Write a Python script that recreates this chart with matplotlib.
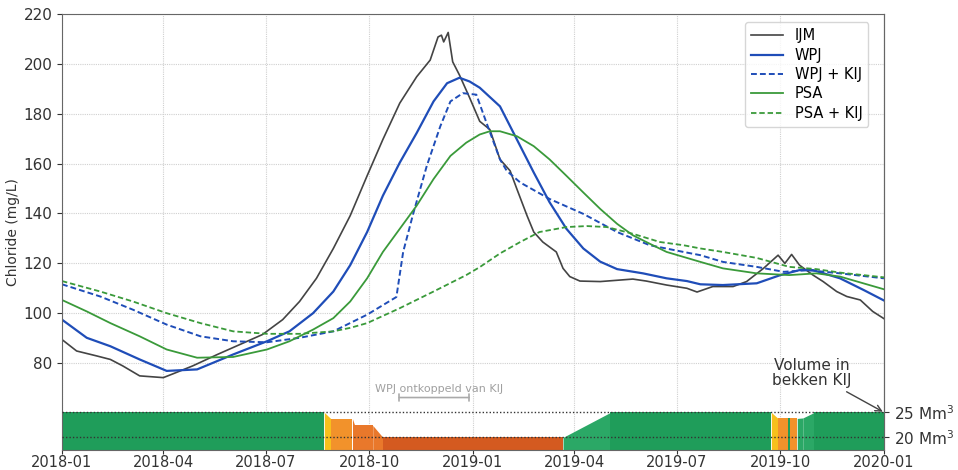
import matplotlib.pyplot as plt
import matplotlib.dates as mdates
import pandas as pd

# chloride series
ijm_dates = ['2018-01-01', '2018-01-14', '2018-02-01', '2018-02-13', '2018-02-24', '2018-03-11',
             '2018-04-01', '2018-04-10', '2018-04-27', '2018-05-19', '2018-06-08', '2018-06-28',
             '2018-07-16', '2018-07-31', '2018-08-15', '2018-08-30', '2018-09-14', '2018-09-29',
             '2018-10-13', '2018-10-28', '2018-11-12', '2018-11-24', '2018-12-01', '2018-12-04',
             '2018-12-06', '2018-12-10', '2018-12-14', '2018-12-20', '2018-12-29', '2019-01-07',
             '2019-01-16', '2019-01-25', '2019-02-03', '2019-02-09', '2019-02-18', '2019-02-24',
             '2019-03-04', '2019-03-16', '2019-03-22', '2019-03-28', '2019-04-06', '2019-04-24',
             '2019-05-23', '2019-06-04', '2019-06-22', '2019-07-10', '2019-07-19', '2019-08-02',
             '2019-08-20', '2019-09-01', '2019-09-16', '2019-09-29', '2019-10-05', '2019-10-11',
             '2019-10-18', '2019-10-30', '2019-11-08', '2019-11-20', '2019-11-29', '2019-12-11',
             '2019-12-22', '2020-01-01']
ijm = [89.3, 84.7, 82.7, 81.3, 78.7, 74.7,
       74.0, 75.6, 78.7, 83.3, 87.3, 91.3,
       97.3, 104.6, 113.9, 125.9, 139.1, 155.1,
       169.7, 184.3, 194.9, 201.6, 210.9, 211.6,
       208.9, 212.7, 200.9, 195.6, 186.5, 177.0,
       173.7, 161.7, 157.1, 149.8, 139.1, 132.5,
       128.5, 124.5, 117.9, 114.6, 112.8, 112.6,
       113.6, 112.8, 111.2, 109.9, 108.4, 110.6,
       110.6, 112.6, 117.9, 123.2, 119.9, 123.5,
       119.2, 115.2, 112.6, 108.6, 106.6, 105.2,
       100.6, 97.7]

wpj_dates = ['2018-01-01', '2018-01-23', '2018-02-13', '2018-03-11', '2018-04-04', '2018-05-01',
             '2018-06-02', '2018-07-02', '2018-07-22', '2018-08-12', '2018-08-30', '2018-09-14',
             '2018-09-29', '2018-10-13', '2018-10-28', '2018-11-12', '2018-11-27', '2018-12-09',
             '2018-12-20', '2018-12-29', '2019-01-07', '2019-01-25', '2019-02-09', '2019-02-24',
             '2019-03-10', '2019-03-25', '2019-04-09', '2019-04-24', '2019-05-09', '2019-06-01',
             '2019-06-22', '2019-07-10', '2019-07-22', '2019-08-11', '2019-09-10', '2019-10-01',
             '2019-10-18', '2019-10-30', '2019-11-23', '2019-12-14', '2020-01-01']
wpj = [97.3, 90.0, 86.6, 81.3, 76.7, 77.3,
       83.3, 88.6, 92.6, 99.9, 108.6, 119.2,
       132.5, 147.1, 160.4, 172.3, 185.0, 192.3,
       194.5, 193.0, 190.5, 183.0, 169.7, 156.4,
       144.5, 133.8, 125.9, 120.6, 117.6, 115.9,
       113.9, 112.8, 111.5, 111.2, 111.9, 115.2,
       117.2, 117.2, 113.9, 109.2, 105.0]

wpj_kij_dates = ['2018-01-01', '2018-02-04', '2018-03-05', '2018-04-04', '2018-05-04', '2018-06-02',
                 '2018-07-02', '2018-07-31', '2018-08-30', '2018-09-29', '2018-10-25', '2018-10-31',
                 '2018-11-09', '2018-11-21', '2018-12-03', '2018-12-12', '2018-12-23', '2019-01-04',
                 '2019-01-13', '2019-01-25', '2019-01-31', '2019-02-12', '2019-03-10', '2019-04-09',
                 '2019-05-09', '2019-06-07', '2019-07-07', '2019-07-22', '2019-08-11', '2019-09-10',
                 '2019-10-04', '2019-10-25', '2019-11-23', '2020-01-01']
wpj_kij = [111.5, 106.6, 101.3, 95.3, 90.6, 88.6,
           88.2, 90.0, 92.6, 99.3, 106.4, 124.5,
           140.0, 159.1, 175.0, 185.0, 188.3, 187.7,
           176.4, 161.7, 157.1, 152.4, 145.8, 139.8,
           132.5, 127.2, 124.5, 123.2, 120.5, 118.5,
           116.5, 117.2, 115.9, 113.9]

psa_dates = ['2018-01-01', '2018-01-23', '2018-02-13', '2018-03-11', '2018-04-04', '2018-05-01',
             '2018-06-02', '2018-07-02', '2018-07-22', '2018-08-12', '2018-08-30', '2018-09-14',
             '2018-09-29', '2018-10-13', '2018-10-28', '2018-11-12', '2018-11-27', '2018-12-12',
             '2018-12-26', '2019-01-07', '2019-01-16', '2019-01-25', '2019-02-09', '2019-02-24',
             '2019-03-10', '2019-03-25', '2019-04-09', '2019-04-24', '2019-05-09', '2019-05-23',
             '2019-06-07', '2019-06-22', '2019-07-07', '2019-07-22', '2019-08-11', '2019-09-10',
             '2019-10-09', '2019-11-02', '2019-11-23', '2020-01-01']
psa = [105.2, 100.6, 95.9, 90.6, 85.3, 82.0,
       82.3, 85.3, 88.6, 93.3, 97.9, 104.6,
       113.9, 124.5, 133.8, 143.1, 153.8, 163.1,
       168.4, 171.7, 173.0, 173.0, 171.0, 167.0,
       161.7, 155.1, 148.4, 141.8, 135.8, 131.2,
       127.8, 124.5, 122.5, 120.5, 117.9, 115.9,
       115.2, 115.9, 114.6, 109.5]

psa_kij_dates = ['2018-01-01', '2018-02-04', '2018-03-05', '2018-04-04', '2018-05-04', '2018-06-02',
                 '2018-07-02', '2018-07-31', '2018-08-30', '2018-09-14', '2018-09-29', '2018-10-28',
                 '2018-11-27', '2018-12-26', '2019-01-07', '2019-01-25', '2019-02-12', '2019-03-01',
                 '2019-03-25', '2019-04-12', '2019-04-30', '2019-05-23', '2019-06-16', '2019-07-07',
                 '2019-07-22', '2019-08-11', '2019-09-10', '2019-10-09', '2019-11-02', '2019-11-23',
                 '2020-01-01']
psa_kij = [112.8, 108.6, 104.6, 99.9, 95.9, 92.6,
           91.6, 91.6, 92.6, 94.0, 95.9, 101.9,
           108.6, 115.2, 118.4, 123.9, 128.5, 132.5,
           134.5, 134.9, 134.5, 131.8, 128.5, 127.2,
           125.9, 124.5, 122.1, 118.5, 117.6, 116.2,
           114.3]

# volume in bekken KIJ (Mm3) and the colour of each stretch
vol_dates = ['2018-01-01', '2018-08-22', '2018-08-28', '2018-09-16', '2018-09-18', '2018-10-04',
             '2018-10-13', '2019-03-22', '2019-05-03', '2019-09-23', '2019-09-29', '2019-10-08',
             '2019-10-10', '2019-10-16', '2019-10-21', '2019-10-31', '2020-01-01']
vol = [25, 25, 23.7, 23.7, 22.4, 22.4,
       20, 20, 25, 25, 23.8, 23.8,
       23.8, 23.8, 23.9, 25, 25]
vol_colors = ['#1f9d5a', '#f7c01c', '#f2922b', '#e9782b', '#e9782b', '#e9782b',
              '#d45a20', '#2ba866', '#1f9d5a', '#f7c01c', '#f2922b', '#1f9d5a',
              '#f2922b', '#2ba866', '#2ba866', '#1f9d5a']

ylow = 45


def vol_to_y(v):
    return 2 * v + 10


def y_to_vol(y):
    return (y - 10) / 2


fig = plt.figure(figsize=(9.58, 4.70), dpi=100)
ax = fig.add_axes([0.0647, 0.043, 0.858, 0.9266])

ax.plot(pd.to_datetime(ijm_dates), ijm, color='#444444', lw=1.2, label='IJM')
ax.plot(pd.to_datetime(wpj_dates), wpj, color='#1f4db8', lw=1.6, label='WPJ')
ax.plot(pd.to_datetime(wpj_kij_dates), wpj_kij, color='#1f4db8', lw=1.4, ls='--',
        dashes=(3, 1.6), label='WPJ + KIJ')
ax.plot(pd.to_datetime(psa_dates), psa, color='#3a9a3a', lw=1.3, label='PSA')
ax.plot(pd.to_datetime(psa_kij_dates), psa_kij, color='#3a9a3a', lw=1.3, ls='--',
        dashes=(3, 1.6), label='PSA + KIJ')

vd = pd.to_datetime(vol_dates)
for i in range(len(vol_colors)):
    ax.fill_between(vd[i:i + 2], ylow, [vol_to_y(v) for v in vol[i:i + 2]],
                    color=vol_colors[i], lw=0, zorder=2)

ax.axhline(vol_to_y(25), color='#333333', ls=(0, (1, 1.5)), lw=1, zorder=3)
ax.axhline(vol_to_y(20), color='#333333', ls=(0, (1, 1.5)), lw=1, zorder=3)

ax.set_xlim(pd.Timestamp('2018-01-01'), pd.Timestamp('2020-01-01'))
ax.set_ylim(ylow, 220)
ax.set_yticks(range(80, 221, 20))
ax.xaxis.set_major_locator(mdates.MonthLocator(bymonth=[1, 4, 7, 10]))
ax.xaxis.set_major_formatter(mdates.DateFormatter('%Y-%m'))
ax.tick_params(labelsize=11, colors='#333333')
ax.tick_params(axis='x', length=3, pad=0.5, labelsize=10.5)
ax.set_ylabel('Chloride (mg/L)', fontsize=10, color='#333333', labelpad=2)
ax.set_axisbelow(True)
ax.grid(True, color='#d0d0d0', lw=0.8, ls=(0, (1, 1)))
for s in ax.spines.values():
    s.set_color('#666666')

sec = ax.secondary_yaxis('right', functions=(y_to_vol, vol_to_y))
sec.set_yticks([25, 20])
sec.set_yticklabels(['25 Mm$^3$', '20 Mm$^3$'])
sec.tick_params(labelsize=11, colors='#333333')
sec.spines['right'].set_color('#666666')

# WPJ ontkoppeld van KIJ
ax.annotate('', xy=(pd.Timestamp('2018-12-31'), 66), xytext=(pd.Timestamp('2018-10-25'), 66),
            arrowprops=dict(arrowstyle='|-|, widthA=0.25, widthB=0.25', color='#aaaaaa', lw=1.2))
ax.text(pd.Timestamp('2018-12-02'), 69.3, 'WPJ ontkoppeld van KIJ', fontsize=8,
        color='#a0a0a0', ha='center', va='center')

ax.annotate('Volume in\nbekken KIJ', xy=(pd.Timestamp('2019-12-31'), 60.3),
            xytext=(pd.Timestamp('2019-10-29'), 76), fontsize=11, color='#333333',
            ha='center', va='center', linespacing=1.0,
            arrowprops=dict(arrowstyle='->', color='#444444', lw=1,
                            shrinkA=2, shrinkB=0))

ax.legend(loc='upper right', fontsize=10.5, handlelength=2.2, borderpad=0.4,
          labelspacing=0.3, edgecolor='#cccccc', bbox_to_anchor=(0.99, 0.998))

plt.savefig('out.png', dpi=100)
